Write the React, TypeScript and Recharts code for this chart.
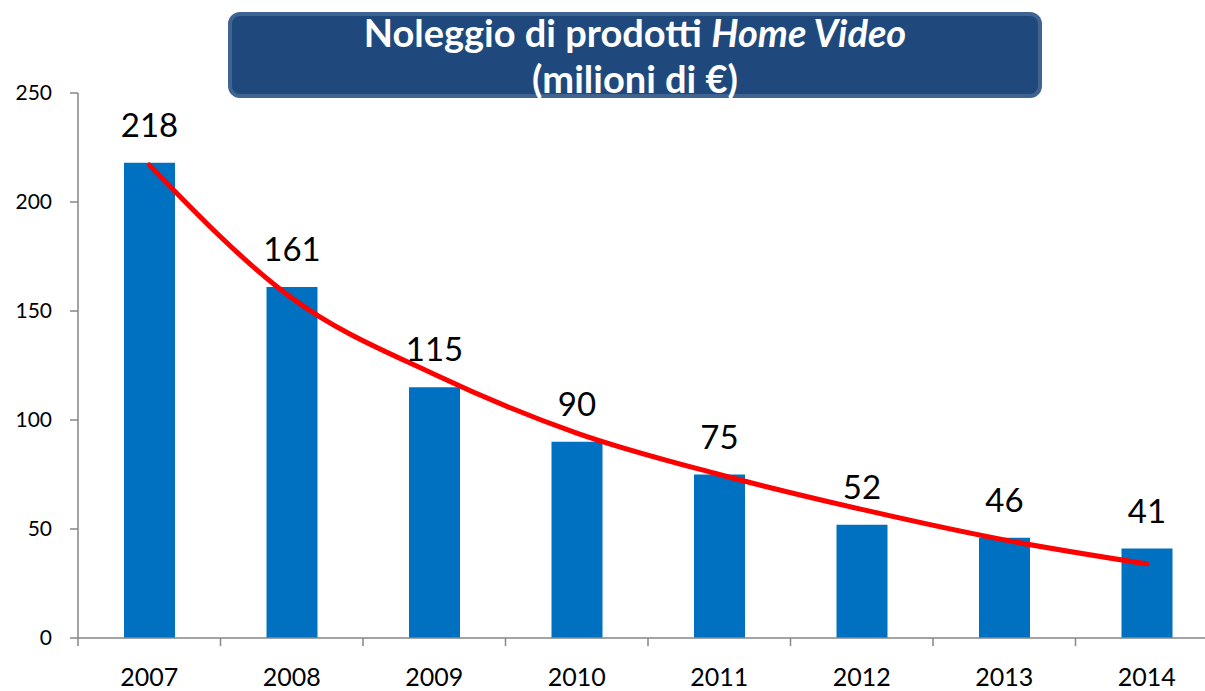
import React from 'react';
import {
  ComposedChart,
  Bar,
  Line,
  XAxis,
  YAxis,
  LabelList
} from 'recharts';

const years = ['2007', '2008', '2009', '2010', '2011', '2012', '2013', '2014'];
const rentals = [218, 161, 115, 90, 75, 52, 46, 41];
// trend line
const trend = [217, 156, 121, 94, 75, 59, 45, 34];
const yTicks = [0, 50, 100, 150, 200, 250];

const data = years.map((year, i) => ({ year, value: rentals[i], trend: trend[i] }));

const CHART_W = 1260;
const Y_AXIS_W = 78;
const RIGHT = 42;
const HALF_BAND = (CHART_W - Y_AXIS_W - RIGHT) / years.length / 2;
const X_TICK_MARGIN = 24;
const FONT = 'Lato, "Open Sans", sans-serif';

const YearTick = (props: any) => {
  const { x, y, payload, index } = props;
  const axisY = y - 6 - X_TICK_MARGIN;
  return (
    <g>
      <line x1={x - HALF_BAND} y1={axisY} x2={x - HALF_BAND} y2={axisY + 8} stroke="#868686" strokeWidth={1.5} />
      {index === years.length - 1 && (
        <line x1={x + HALF_BAND} y1={axisY} x2={x + HALF_BAND} y2={axisY + 8} stroke="#868686" strokeWidth={1.5} />
      )}
      <text x={x} y={y} dy="0.71em" textAnchor="middle" fontSize={25} fill="#000" fontFamily={FONT}>
        {payload.value}
      </text>
    </g>
  );
};

const App: React.FC = () => {
  return (
    <div style={{ position: 'absolute', left: 0, top: 0, width: 1205, height: 691, overflow: 'hidden', background: '#fff' }}>
      <style>{`body{margin:0}`}</style>
      <ComposedChart
        width={CHART_W}
        height={691}
        data={data}
        margin={{ top: 93, right: RIGHT, left: 0, bottom: 0 }}
      >
        <XAxis
          dataKey="year"
          height={53}
          axisLine={{ stroke: '#868686', strokeWidth: 1.5 }}
          tickLine={false}
          tickMargin={X_TICK_MARGIN}
          tick={<YearTick />}
          interval={0}
        />
        <YAxis
          width={Y_AXIS_W}
          domain={[0, 250]}
          ticks={yTicks}
          axisLine={{ stroke: '#868686', strokeWidth: 1.5 }}
          tickLine={{ stroke: '#868686', strokeWidth: 1.5 }}
          tickSize={8}
          tickMargin={18}
          tick={{ fill: '#000', fontSize: 21, fontFamily: FONT }}
        />
        <Bar dataKey="value" fill="#0070C0" barSize={51} isAnimationActive={false}>
          <LabelList dataKey="value" position="top" offset={26} fill="#000" fontSize={33} fontFamily={FONT} />
        </Bar>
        <Line
          dataKey="trend"
          type="monotone"
          stroke="#FF0000"
          strokeWidth={5}
          strokeLinecap="round"
          dot={false}
          activeDot={false}
          isAnimationActive={false}
        />
      </ComposedChart>
      <div
        style={{
          position: 'absolute',
          left: 228,
          top: 12,
          width: 806,
          height: 78,
          background: '#1F497D',
          border: '4px solid #3F6491',
          borderRadius: 12,
          zIndex: 2
        }}
      />
      <div
        style={{
          position: 'absolute',
          left: 228,
          top: 9,
          width: 814,
          color: '#fff',
          fontFamily: FONT,
          fontWeight: 700,
          fontSize: 38,
          lineHeight: '46px',
          textAlign: 'center',
          whiteSpace: 'nowrap',
          zIndex: 3
        }}
      >
        <div>Noleggio di prodotti <i>Home Video</i></div>
        <div>(milioni di €)</div>
      </div>
    </div>
  );
};

export default App;
